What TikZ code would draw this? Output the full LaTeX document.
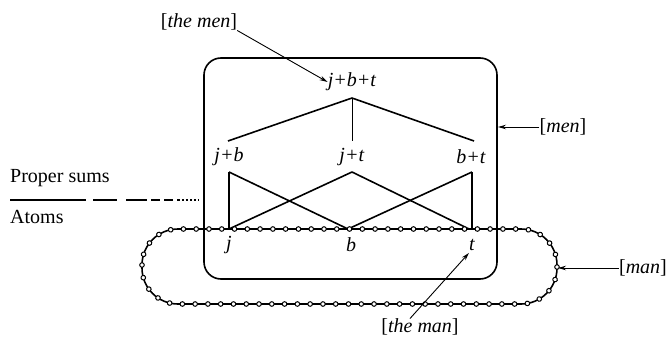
\documentclass[tikz,border=0pt]{standalone}
\usepackage{fontspec}
\setmainfont{Liberation Serif}
\usetikzlibrary{arrows.meta,decorations.markings}
\begin{document}
\begin{tikzpicture}[x=1pt,y=-1pt,
  lab/.style={inner sep=0pt, font=\fontsize{20}{23}\selectfont},
  edge/.style={line width=1.6pt},
  arr/.style={-{Stealth[length=8pt,width=4.5pt]}, line width=0.9pt},
  chain/.style={line width=1.6pt, rounded corners=36pt, postaction={decorate},
    decoration={markings, mark=between positions 0 and 1 step 12.78pt with {\draw[line width=1pt, fill=white] (0,0) circle (2.3pt);}}}]
\useasboundingbox (0,0) rectangle (669,337);
% box [men]
\draw[edge, rounded corners=17pt] (204,58) rectangle (497,279);
% labels
\node[lab] (themen) at (199,22) {[\textit{the men}]};
\node[lab] (jbt) at (352,82) {\textit{j+b+t}};
\node[lab] (jb) at (229,157) {\textit{j+b}};
\node[lab] (jt) at (352,157) {\textit{j+t}};
\node[lab] (bt) at (471,157) {\textit{b+t}};
\node[lab] (jl) at (229,245) {\textit{j}};
\node[lab] (bl) at (351,245) {\textit{b}};
\node[lab] (tl) at (472,245) {\textit{t}};
\node[lab] (men) at (563,127) {[\textit{men}]};
\node[lab] (man) at (643,268) {[\textit{man}]};
\node[lab] (theman) at (420,327) {[\textit{the man}]};
\node[lab, anchor=west] (ps) at (10,178) {Proper sums};
\node[lab, anchor=west] (atoms) at (10,217) {Atoms};
% lattice points
\coordinate (jbtB) at (352,98);
\coordinate (jbT) at (228,141);
\coordinate (jtT) at (352,141);
\coordinate (btT) at (474,141);
\coordinate (jbB) at (229,172);
\coordinate (jtB) at (352,172);
\coordinate (btB) at (472,172);
\coordinate (j) at (229,229);
\coordinate (b) at (348,229);
\coordinate (t) at (469,229);
\coordinate (tv) at (472,229);
% lattice lines
\draw[edge] (jbtB) -- (jbT);
\draw[line width=1pt] (jbtB) -- (jtT);
\draw[edge] (jbtB) -- (btT);
\draw[edge] (jbB) -- (j);
\draw[edge] (jbB) -- (b);
\draw[edge] (jtB) -- (j);
\draw[edge] (jtB) -- (t);
\draw[edge] (btB) -- (b);
\draw[edge] (btB) -- (tv);
% chain [man]
\draw[chain] (142,229) rectangle (557,304);
% divider
\coordinate (d0) at (10,200);
\coordinate (d1) at (86,200);
\coordinate (d2) at (93,200);
\coordinate (d3) at (147,200);
\coordinate (d4) at (151,200);
\coordinate (d5) at (180,200);
\coordinate (d6) at (182,200);
\coordinate (d7) at (199,200);
\draw[line width=1.5pt] (d0) -- (d1);
\draw[line width=1.5pt, dash pattern=on 24pt off 9pt] (d2) -- (d3);
\draw[line width=1.3pt, dash pattern=on 9pt off 4pt] (d4) -- (d5);
\draw[line width=1.1pt, dash pattern=on 1.5pt off 2.5pt] (d6) -- (d7);
% arrows
\coordinate (menTip) at (498,127);
\coordinate (manTip) at (558,268);
\draw[arr] (themen.south east) -- (jbt.west);
\draw[arr] (men.west) -- (menTip);
\draw[arr] (man.west) -- (manTip);
\draw[arr] ([xshift=-10pt]theman.north) -- ([xshift=-3pt, yshift=-2pt]tl.south);
\end{tikzpicture}
\end{document}
